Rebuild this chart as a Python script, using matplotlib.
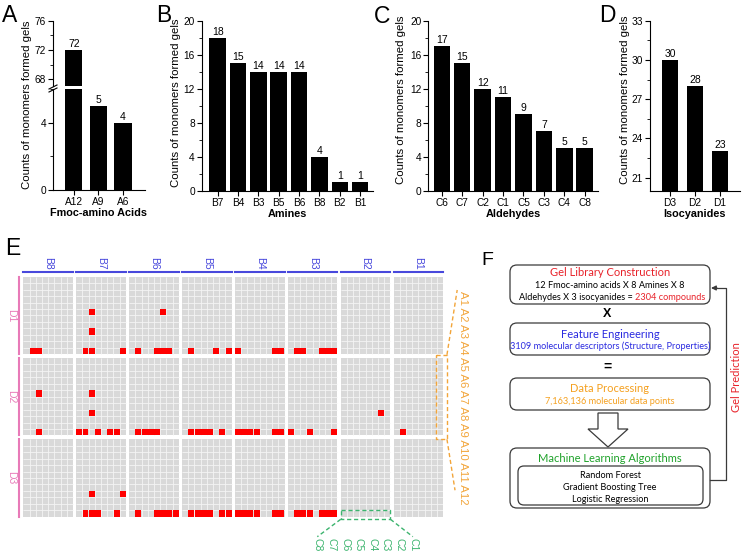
import numpy as np
import matplotlib
matplotlib.use('Agg')
import matplotlib.pyplot as plt
from matplotlib.patches import Rectangle, FancyBboxPatch, Polygon
from matplotlib.ticker import MultipleLocator

plt.rcParams['font.family'] = ['Liberation Sans', 'DejaVu Sans']

# bar chart data (panels A-D)
amino_labels = ['A12', 'A9', 'A6']
amino_counts = [72, 5, 4]
amine_labels = ['B7', 'B4', 'B3', 'B5', 'B6', 'B8', 'B2', 'B1']
amine_counts = [18, 15, 14, 14, 14, 4, 1, 1]
aldehyde_labels = ['C6', 'C7', 'C2', 'C1', 'C5', 'C3', 'C4', 'C8']
aldehyde_counts = [17, 15, 12, 11, 9, 7, 5, 5]
iso_labels = ['D3', 'D2', 'D1']
iso_counts = [30, 28, 23]

# gels found in the library map (panel E): (amine B, aldehyde C, amino acid A)
hits_D1 = [(8, 7, 12), (8, 6, 12),
           (7, 6, 6), (7, 6, 9), (7, 7, 12), (7, 6, 12), (7, 1, 12),
           (6, 3, 6), (6, 7, 12), (6, 4, 12), (6, 3, 12), (6, 2, 12),
           (5, 7, 12), (5, 3, 12), (5, 1, 12),
           (4, 8, 12), (4, 2, 12), (4, 1, 12),
           (3, 7, 12), (3, 6, 12), (3, 3, 12), (3, 2, 12), (3, 1, 12)]
hits_D2 = [(8, 6, 6), (8, 6, 12),
           (7, 6, 6), (7, 6, 9), (7, 8, 12), (7, 7, 12), (7, 5, 12), (7, 3, 12), (7, 2, 12),
           (6, 7, 12), (6, 6, 12), (6, 5, 12), (6, 4, 12),
           (5, 7, 12), (5, 6, 12), (5, 5, 12), (5, 4, 12), (5, 2, 12),
           (4, 8, 12), (4, 7, 12), (4, 6, 12), (4, 5, 12), (4, 2, 12), (4, 1, 12),
           (3, 8, 12), (3, 5, 12), (3, 1, 12),
           (2, 2, 9), (1, 7, 12)]
hits_D3 = [(7, 6, 9), (7, 1, 9), (7, 7, 12), (7, 6, 12), (7, 5, 12), (7, 2, 12),
           (6, 7, 12), (6, 4, 12), (6, 3, 12), (6, 2, 12), (6, 1, 12),
           (5, 7, 12), (5, 6, 12), (5, 5, 12), (5, 4, 12), (5, 2, 12), (5, 1, 12),
           (4, 8, 12), (4, 7, 12), (4, 6, 12), (4, 5, 12), (4, 2, 12), (4, 1, 12),
           (3, 7, 12), (3, 6, 12), (3, 5, 12), (3, 3, 12), (3, 2, 12), (3, 1, 12)]

W, H = 745, 556
fig = plt.figure(figsize=(W / 100, H / 100), dpi=100)


def px_axes(l, t, r, b):
    return fig.add_axes([l / W, 1 - b / H, (r - l) / W, (b - t) / H])


def style_axes(ax):
    for s in ('top', 'right'):
        ax.spines[s].set_visible(False)
    for s in ('left', 'bottom'):
        ax.spines[s].set_linewidth(0.8)
    ax.tick_params(which='major', direction='out', length=3.5, width=0.8,
                   labelsize=7.3, pad=1.5)
    ax.tick_params(axis='y', which='minor', direction='out', length=2, width=0.6)


def bar_panel(ax, labels, counts, width, xlim, ylim, major, minor, xlabel=None):
    x = np.arange(len(labels))
    ax.bar(x, counts, width, color='black')
    for xi, c in zip(x, counts):
        if ylim[0] < c <= ylim[1]:
            ax.annotate(str(c), (xi, c), xytext=(0, 0.8), textcoords='offset points',
                        ha='center', va='bottom', fontsize=7.5)
    ax.set_xlim(*xlim)
    ax.set_ylim(*ylim)
    ax.yaxis.set_major_locator(MultipleLocator(major))
    ax.yaxis.set_minor_locator(MultipleLocator(minor))
    ax.set_xticks(x)
    ax.set_xticklabels(labels)
    style_axes(ax)
    if xlabel:
        ax.set_xlabel(xlabel, fontsize=7.8, fontweight='bold', labelpad=1)


ylab = 'Counts of monomers formed gels'

# ---- A (broken axis)
axA_top = px_axes(53, 20.7, 145, 86)
axA_bot = px_axes(53, 89.3, 145, 190)
bar_panel(axA_top, amino_labels, amino_counts, 0.7, (-0.85, 2.9), (67.09, 76), 4, 2)
bar_panel(axA_bot, amino_labels, amino_counts, 0.7, (-0.85, 2.9), (0, 6), 4, 2,
          'Fmoc-amino Acids')
axA_top.spines['bottom'].set_visible(False)
axA_top.tick_params(axis='x', which='both', bottom=False, labelbottom=False)
fig.text(26.7 / W, 1 - 105 / H, ylab, rotation=90, ha='center', va='center', fontsize=8.2)

# ---- B
axB = px_axes(201.7, 20.7, 373, 190.7)
bar_panel(axB, amine_labels, amine_counts, 0.81, (-0.78, 7.63), (0, 20), 4, 2, 'Amines')
fig.text(176 / W, 1 - 103 / H, ylab, rotation=90, ha='center', va='center', fontsize=8.2)

# ---- C
axC = px_axes(428.3, 20.7, 598, 190.7)
bar_panel(axC, aldehyde_labels, aldehyde_counts, 0.81, (-0.66, 7.65), (0, 20), 4, 2, 'Aldehydes')
fig.text(401 / W, 1 - 100 / H, ylab, rotation=90, ha='center', va='center', fontsize=8.2)

# ---- D
axD = px_axes(650, 20.7, 740, 190.7)
bar_panel(axD, iso_labels, iso_counts, 0.66, (-0.8, 2.8), (20, 33), 3, 1.5, 'Isocyanides')
fig.text(625 / W, 1 - 100 / H, ylab, rotation=90, ha='center', va='center', fontsize=8.2)

# ---- E heat map
blue, pink, orange, green = '#4848dc', '#e87ab8', '#f2a53a', '#3cb46e'
g, gy = 0.53, 0.6
axE = px_axes(23.3, 276.7, 443.3, 516.7)
axE.set_xlim(0, 64 + 7 * g)
axE.set_ylim(36 + 2 * gy, 0)
axE.axis('off')


def col_x(b, c):
    return (8 - b) * (8 + g) + (8 - c)


def row_y(d, a):
    return (d - 1) * (12 + gy) + (a - 1)


for d in (1, 2, 3):
    for b in range(8, 0, -1):
        x0, y0 = col_x(b, 8), row_y(d, 1)
        axE.add_patch(Rectangle((x0, y0), 8, 12, fc='#d9d9d9', ec='none'))
        axE.vlines(x0 + np.arange(1, 8), y0, y0 + 12, color='#f4f4f4', lw=0.6)
        axE.hlines(y0 + np.arange(1, 12), x0, x0 + 8, color='#f4f4f4', lw=0.6)

for d, hits in zip((1, 2, 3), (hits_D1, hits_D2, hits_D3)):
    for b, c, a in hits:
        axE.add_patch(Rectangle((col_x(b, c) + 0.02, row_y(d, a) + 0.02), 0.96, 0.96,
                                fc='#ff0000', ec='none', zorder=3))

for b in range(8, 0, -1):
    x0 = col_x(b, 8)
    axE.text(x0 + 4, -2.1, f'B{b}', rotation=-90, ha='center', va='center',
             color=blue, fontsize=7.5, clip_on=False)
    axE.plot([x0, x0 + 8], [-0.7, -0.7], color=blue, lw=1.5, clip_on=False)
for d in (1, 2, 3):
    y0 = row_y(d, 1)
    axE.text(-2.0, y0 + 6, f'D{d}', rotation=-90, ha='center', va='center',
             color=pink, fontsize=7.5, clip_on=False)
    axE.plot([-0.7, -0.7], [y0, y0 + 12], color=pink, lw=1.5, clip_on=False)

dash = (0, (3, 2))
# orange bracket on D2 / B1
bx0, bx1, by0, by1 = 66.5, 68.3, 12.1, 25.2
axE.plot([bx0, bx1, bx1, bx0, bx0], [by0, by0, by1, by1, by0], color=orange, lw=1,
         ls=dash, clip_on=False)
axE.plot([bx1, 69.95], [by0, 2.06], color=orange, lw=1, ls=dash, clip_on=False)
axE.plot([bx1, 69.6], [by1, 33.1], color=orange, lw=1, ls=dash, clip_on=False)
axE.text(70.9, 18.7, ' '.join(f'A{i}' for i in range(1, 13)), rotation=-90,
         ha='center', va='center', color=orange, fontsize=8.2, clip_on=False)

# green box on D3 / B2 / A12
gx0, gx1, gy0, gy1 = col_x(2, 8), col_x(2, 8) + 8, 36.2, 37.6
axE.plot([gx0, gx1, gx1, gx0, gx0], [gy0, gy0, gy1, gy1, gy0], color=green, lw=1,
         ls=dash, clip_on=False)
axE.plot([gx0, 47.4], [gy1, 40.3], color=green, lw=1, ls=dash, clip_on=False)
axE.plot([gx1, 62.8], [gy1, 40.3], color=green, lw=1, ls=dash, clip_on=False)
for i, c in enumerate(range(8, 0, -1)):
    axE.text(47.5 + i * 2.19, 40.5, f'C{c}', rotation=-90, ha='center', va='top',
             color=green, fontsize=7.5, clip_on=False)

# ---- overlay: letters and flow chart (F)
axO = fig.add_axes([0, 0, 1, 1], zorder=5)
axO.set_xlim(0, W)
axO.set_ylim(H, 0)
axO.axis('off')
axO.patch.set_alpha(0)

# axis break mark in A
for yy in (87.5, 90.5):
    axO.plot([49, 57], [yy + 1.5, yy - 2.5], color='black', lw=0.8)

for lt, (x, y) in zip('ABCDEF', [(1.5, 21.7), (156, 21.7), (374, 23.3), (599, 21.7),
                                 (5.5, 255), (481, 265)]):
    axO.text(x, y, lt, fontsize=16.5 if lt != 'F' else 14, ha='left', va='baseline')

ff = ['Lato', 'DejaVu Sans']
edge = '#3a3a3a'


def rbox(x0, y0, x1, y1, r=7):
    axO.add_patch(FancyBboxPatch((x0, y0), x1 - x0, y1 - y0,
                                 boxstyle=f'round,pad=0,rounding_size={r}',
                                 fc='white', ec=edge, lw=0.9))


red_t, blue_t, orange_t, green_t = '#e8222a', '#2a2ae0', '#f5a01e', '#1fa22a'
cx = 610
rbox(510, 265, 710, 304)
axO.text(cx, 273, 'Gel Library Construction', color=red_t, fontsize=8, family=ff,
         ha='center', va='center')
axO.text(cx, 286, '12 Fmoc-amino acids X 8 Amines X 8', fontsize=6.6, family=ff,
         ha='center', va='center')
t1 = axO.text(519, 302, 'Aldehydes X 3 isocyanides = ', fontsize=6.6, family=ff,
              ha='left', va='bottom')
axO.annotate('2304 compounds', xy=(1, 0), xycoords=t1, ha='left', va='bottom',
             fontsize=6.6, family=ff, color=red_t)
axO.text(607, 314, 'X', fontsize=9, fontweight='bold', ha='center', va='center')

rbox(510, 323, 710, 355)
axO.text(cx, 334, 'Feature Engineering', color=blue_t, fontsize=8, family=ff,
         ha='center', va='center')
axO.text(cx, 346, '3109 molecular descriptors (Structure, Properties)', color=blue_t,
         fontsize=6.6, family=ff, ha='center', va='center')
axO.text(607, 367, '=', fontsize=10, fontweight='bold', ha='center', va='center')

rbox(510, 378, 710, 410)
axO.text(cx, 388, 'Data Processing', color=orange_t, fontsize=8, family=ff,
         ha='center', va='center')
axO.text(cx, 402, '7,163,136 molecular data points', color=orange_t, fontsize=6.6,
         family=ff, ha='center', va='center')

axO.add_patch(Polygon([(598, 413), (618, 413), (618, 429), (628, 429), (608, 447),
                       (588, 429), (598, 429)], closed=True, fc='white', ec=edge, lw=0.9))

rbox(510, 448, 710, 508)
axO.text(cx, 459, 'Machine Learning Algorithms', color=green_t, fontsize=8, family=ff,
         ha='center', va='center')
rbox(518, 466, 703, 505, r=6)
for yy, s in zip((475, 487, 499), ('Random Forest', 'Gradient Boosting Tree',
                                   'Logistic Regression')):
    axO.text(cx, yy, s, fontsize=6.6, family=ff, ha='center', va='center')

axO.plot([710, 726, 726, 716], [480, 480, 288, 288], color=edge, lw=0.9)
axO.annotate('', xy=(711, 288), xytext=(717, 288),
             arrowprops=dict(arrowstyle='-|>', color=edge, lw=0.9, mutation_scale=7,
                             shrinkA=0, shrinkB=0))
axO.text(736, 377, 'Gel Prediction', rotation=90, color=red_t, fontsize=8, family=ff,
         ha='center', va='center')

fig.savefig('out.png', dpi=100)
